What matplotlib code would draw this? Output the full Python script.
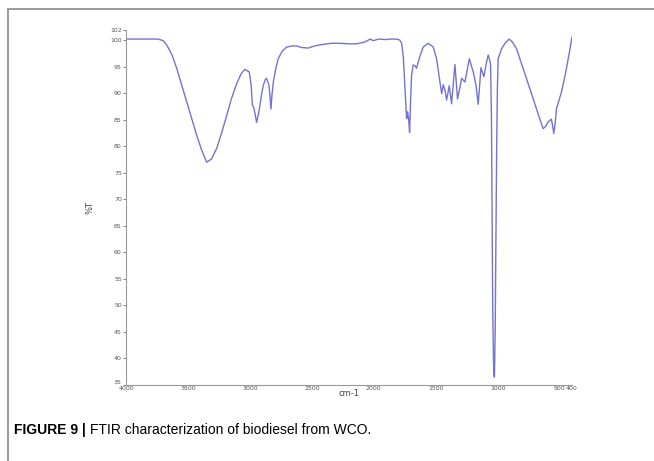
import matplotlib

matplotlib.use("Agg")
import matplotlib.pyplot as plt
from matplotlib.lines import Line2D

# FTIR spectrum (wavenumber cm-1, %T)
wavenumber = [
    4000, 3900, 3800, 3742, 3700, 3672, 3630, 3591, 3550, 3510, 3470, 3430,
    3390, 3349, 3310, 3268, 3230, 3187, 3150, 3107, 3070, 3040, 3005, 2990,
    2980, 2970, 2960, 2946, 2930, 2919, 2905, 2892, 2875, 2865, 2846, 2838,
    2830, 2822, 2811, 2790, 2771, 2740, 2703, 2660, 2622, 2580, 2529, 2480,
    2408, 2340, 2273, 2200, 2138, 2080, 2050, 2031, 2004, 1960, 1900, 1870,
    1815, 1790, 1775, 1762, 1754, 1742, 1735, 1727, 1718, 1711, 1703, 1695,
    1682, 1668, 1655, 1630, 1601, 1560, 1520, 1493, 1475, 1466, 1452, 1439,
    1425, 1412, 1391, 1372, 1358, 1345, 1324, 1305, 1291, 1264, 1245, 1229,
    1197, 1175, 1157, 1135, 1111, 1090, 1076, 1062, 1057, 1050, 1045, 1040,
    1034, 1030, 1026, 1020, 1014, 1008, 1002, 996, 968, 940, 907, 880, 848,
    795, 755, 714, 675, 633, 610, 593, 566, 556, 547, 535, 525, 485, 450,
    418, 400,
]
transmittance = [
    100.2, 100.2, 100.2, 100.2, 99.9, 99.1, 97.3, 94.7, 91.5, 88.4, 85.2, 82.1,
    79.3, 77.0, 77.6, 79.6, 82.4, 85.8, 88.9, 91.8, 93.7, 94.5, 94.0, 91.5,
    87.7, 87.4, 86.3, 84.5, 86.2, 87.7, 89.9, 91.5, 92.6, 92.8, 91.5, 89.5,
    87.0, 89.6, 92.1, 94.8, 96.5, 97.9, 98.7, 98.9, 98.9, 98.6, 98.5, 98.9,
    99.2, 99.4, 99.4, 99.3, 99.3, 99.6, 99.9, 100.2, 99.9, 100.2, 100.1, 100.2,
    100.2, 100.0, 99.4, 97.0, 93.4, 88.0, 85.2, 86.5, 85.0, 82.6, 88.5, 93.4,
    95.3, 95.2, 94.7, 96.8, 98.7, 99.4, 98.7, 96.5, 93.5, 92.1, 89.9, 91.6,
    90.5, 88.7, 91.4, 88.0, 91.8, 95.4, 88.9, 91.0, 92.8, 92.1, 94.5, 96.5,
    94.0, 91.5, 87.9, 94.8, 93.1, 95.8, 97.2, 96.0, 95.3, 85.0, 68.0, 50.0,
    40.0, 36.8, 36.5, 45.0, 62.0, 80.0, 91.0, 96.5, 98.4, 99.4, 100.2, 99.6,
    98.4, 94.7, 91.9, 89.0, 86.2, 83.3, 83.8, 84.6, 85.1, 83.8, 82.4, 84.5,
    87.1, 90.2, 94.0, 98.1, 100.6,
]

x_ticks = [4000, 3500, 3000, 2500, 2000, 1500, 1000, 500, 400]
y_ticks = [35, 40, 45, 50, 55, 60, 65, 70, 75, 80, 85, 90, 95, 100, 102]

fig = plt.figure(figsize=(6.54, 4.61), dpi=100)
fig.patch.set_facecolor("#ffffff")
ax = fig.add_axes([0.1927, 0.1649, 0.6819, 0.7711])

ax.plot(wavenumber, transmittance, color="#6464cc", linewidth=1.0, alpha=0.9)

ax.set_xlim(4000, 400)
ax.set_ylim(35, 102)
ax.set_xticks(x_ticks)
ax.set_xticklabels([str(t) for t in x_ticks])
ax.set_yticks(y_ticks)
ax.set_yticklabels([str(t) for t in y_ticks])
ax.tick_params(axis="both", labelsize=4.5, colors="#555555", length=2, width=0.5, pad=1)
ax.tick_params(axis="x", length=0, pad=0.5)
# the bottom y label sits a touch above the corner, as in the original
ax.get_yticklabels()[0].set_va("bottom")

for side in ("top", "right"):
    ax.spines[side].set_visible(False)
for side in ("left", "bottom"):
    ax.spines[side].set_color("#999999")
    ax.spines[side].set_linewidth(0.8)

ax.set_xlabel("cm-1", fontsize=6, color="#444444", labelpad=-1)
ax.set_ylabel("%T", fontsize=6, color="#444444", labelpad=11)

# frame lines of the figure panel
fig.add_artist(Line2D([8 / 654, 1.0], [1 - 9 / 461, 1 - 9 / 461], color="#9a9a9a", linewidth=1.4))
fig.add_artist(Line2D([8 / 654, 8 / 654], [0.0, 1 - 9 / 461], color="#9a9a9a", linewidth=1.4))

cap_fonts = ["Liberation Sans Narrow", "Liberation Sans", "DejaVu Sans"]
cap = fig.text(14 / 654, 1 - 430 / 461, "FIGURE 9 | ", fontsize=10, fontweight="bold",
               family=cap_fonts, va="center", ha="left")
fig.canvas.draw()
bb = cap.get_window_extent()
fig.text(bb.x1 / fig.bbox.width, 1 - 430 / 461, "FTIR characterization of biodiesel from WCO.",
         fontsize=10, family=cap_fonts, va="center", ha="left")

fig.savefig("out.png", dpi=100)
